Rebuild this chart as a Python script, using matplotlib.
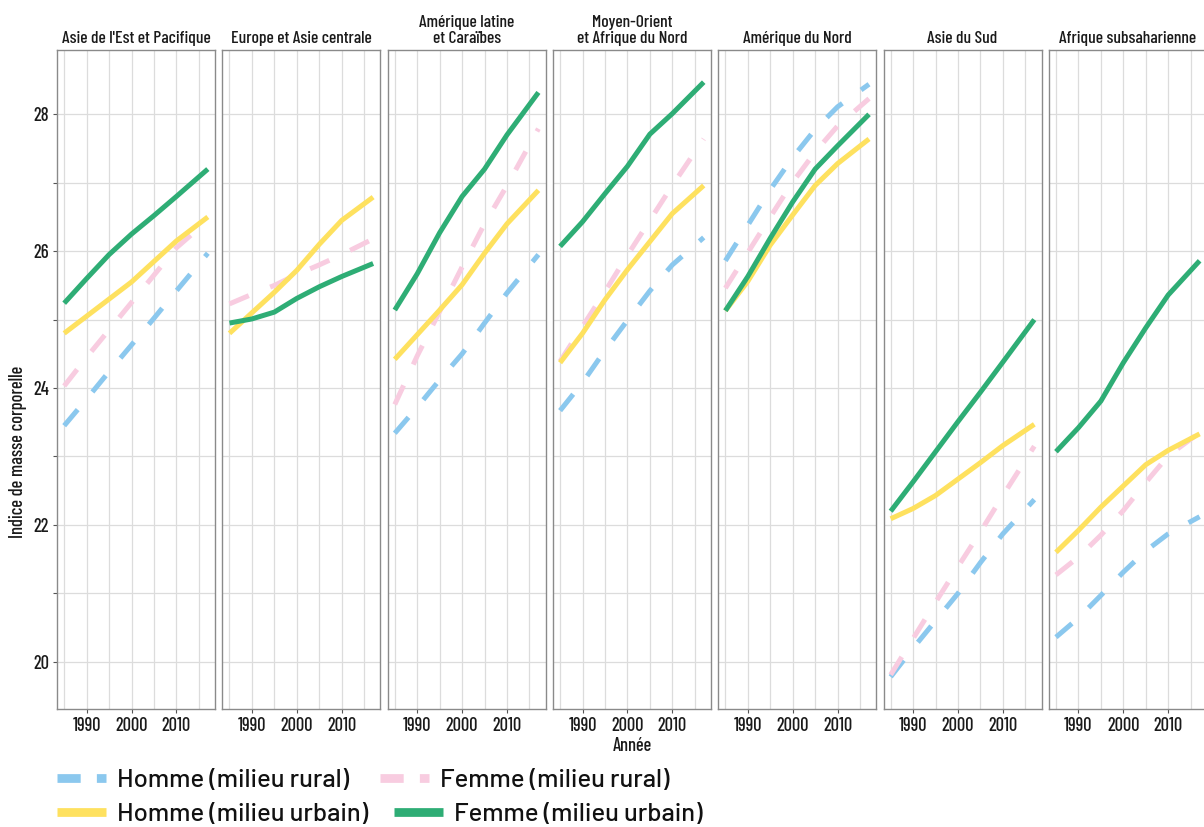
import matplotlib
matplotlib.use("Agg")
import matplotlib.pyplot as plt
from matplotlib import font_manager
from matplotlib.lines import Line2D
from matplotlib.ticker import MultipleLocator, FixedLocator, FuncFormatter

# ---------------- data ----------------
years = [1985, 1990, 1995, 2000, 2005, 2010, 2017]
regions = ["Asie de l'Est et Pacifique", "Europe et Asie centrale",
           "Amérique latine\net Caraïbes", "Moyen-Orient\net Afrique du Nord",
           "Amérique du Nord", "Asie du Sud", "Afrique subsaharienne"]

homme_rural = [
    [23.45, 23.84, 24.24, 24.63, 25.02, 25.42, 25.97],
    None,
    [23.34, 23.72, 24.12, 24.50, 24.95, 25.39, 25.95],
    [23.67, 24.08, 24.55, 24.99, 25.42, 25.80, 26.20],
    [25.86, 26.38, 26.90, 27.37, 27.78, 28.11, 28.44],
    [19.78, 20.20, 20.60, 21.00, 21.45, 21.87, 22.37],
    [20.36, 20.64, 20.97, 21.31, 21.62, 21.87, 22.12],
]
femme_rural = [
    [24.03, 24.45, 24.85, 25.25, 25.65, 26.05, 26.45],
    [25.23, 25.37, 25.50, 25.66, 25.80, 25.95, 26.18],
    [23.76, 24.47, 25.12, 25.77, 26.40, 26.96, 27.79],
    [24.39, 24.90, 25.41, 25.94, 26.45, 26.96, 27.64],
    [25.46, 25.98, 26.50, 27.01, 27.45, 27.83, 28.23],
    [19.81, 20.34, 20.87, 21.39, 21.90, 22.43, 23.15],
    [21.27, 21.53, 21.85, 22.21, 22.62, 23.01, 23.35],
]
homme_urbain = [
    [24.80, 25.05, 25.30, 25.55, 25.85, 26.15, 26.50],
    [24.80, 25.10, 25.40, 25.72, 26.10, 26.45, 26.79],
    [24.42, 24.78, 25.14, 25.51, 25.97, 26.40, 26.89],
    [24.37, 24.80, 25.29, 25.73, 26.14, 26.55, 26.96],
    [25.13, 25.56, 26.09, 26.53, 26.96, 27.28, 27.64],
    [22.09, 22.24, 22.43, 22.67, 22.91, 23.16, 23.47],
    [21.60, 21.92, 22.26, 22.57, 22.88, 23.09, 23.33],
]
femme_urbain = [
    [25.24, 25.60, 25.95, 26.25, 26.52, 26.80, 27.20],
    [24.95, 25.01, 25.11, 25.31, 25.48, 25.63, 25.82],
    [25.14, 25.67, 26.27, 26.80, 27.20, 27.70, 28.32],
    [26.07, 26.43, 26.84, 27.24, 27.71, 28.01, 28.47],
    [25.13, 25.63, 26.19, 26.72, 27.20, 27.54, 28.00],
    [22.20, 22.63, 23.07, 23.51, 23.94, 24.38, 25.00],
    [23.07, 23.42, 23.81, 24.37, 24.88, 25.36, 25.86],
]
series_labels = ["Homme (milieu rural)", "Femme (milieu rural)",
                 "Homme (milieu urbain)", "Femme (milieu urbain)"]
x_ticks = [1990, 2000, 2010]
y_ticks = [20, 22, 24, 26, 28]

# ---------------- styles ----------------
colors = ["#8BC8EE", "#F8CCE0", "#FEE15F", "#2EAD75"]
dashed = [True, True, False, False]

names = {f.name for f in font_manager.fontManager.ttflist}
def pick(cands):
    for c in cands:
        if c in names:
            return c
    return "DejaVu Sans"
COND = {"family": pick(["Barlow Condensed", "Roboto Condensed", "Liberation Sans Narrow"]),
        "weight": "medium"}
LEG_FONT = pick(["Barlow", "Lato", "DejaVu Sans"])

W, H = 1204, 827
fig = plt.figure(figsize=(W / 100, H / 100), dpi=100)

left0, pw, step = 57, 158, 165.3
top, bottom = 50, 709
xlim = (1983.4, 2018.6)
ylim = (19.31, 28.94)

for i, reg in enumerate(regions):
    l = left0 + i * step
    ax = fig.add_axes([l / W, 1 - bottom / H, pw / W, (bottom - top) / H])
    ax.set_xlim(*xlim)
    ax.set_ylim(*ylim)
    ax.xaxis.set_major_locator(FixedLocator(x_ticks))
    ax.xaxis.set_minor_locator(FixedLocator([1985, 1995, 2005, 2015]))
    ax.yaxis.set_major_locator(MultipleLocator(1))
    ax.grid(True, which="major", color="#DCDCDC", lw=0.9)
    ax.grid(True, which="minor", axis="x", color="#DCDCDC", lw=0.9)
    ax.set_axisbelow(True)
    for s in ax.spines.values():
        s.set_color("#8A8A8A")
        s.set_linewidth(1.0)
    ax.tick_params(axis="both", which="major", length=3, color="#555555",
                   labelsize=13.3, labelcolor="#1A1A1A", pad=2.5)
    ax.tick_params(axis="x", which="minor", length=0)
    for lab in ax.get_xticklabels():
        lab.set(**COND)
    if i == 0:
        ax.yaxis.set_major_formatter(FuncFormatter(
            lambda v, p: f"{int(round(v))}" if int(round(v)) in y_ticks else ""))
        for lab in ax.get_yticklabels():
            lab.set(**COND)
    else:
        ax.tick_params(axis="y", which="both", left=False, labelleft=False)

    data = [homme_rural[i], femme_rural[i], homme_urbain[i], femme_urbain[i]]
    for vals, c, d, lab in zip(data, colors, dashed, series_labels):
        if vals is None:
            continue
        if d:
            ax.plot(years, vals, color=c, lw=3.6, linestyle=(0, (4.2, 4.6)),
                    dash_capstyle="butt", label=lab)
        else:
            ax.plot(years, vals, color=c, lw=3.6, solid_capstyle="butt",
                    solid_joinstyle="round", label=lab)
    ax.text(0.5, 1.0 + 4 / (bottom - top), reg, transform=ax.transAxes,
            ha="center", va="bottom", fontsize=12.6, color="#1A1A1A",
            linespacing=1.05, **COND)

# axis titles
fig.text(632 / W, 1 - 746 / H, "Année", ha="center", va="center",
         fontsize=13.3, color="#1A1A1A", **COND)
fig.text(18 / W, 1 - 452 / H, "Indice de masse corporelle", ha="center",
         va="center", rotation=90, fontsize=13.3, color="#1A1A1A", **COND)

# ---------------- legend (two rows) ----------------
def handle(c, d):
    if d:
        return Line2D([], [], color=c, lw=6.3, linestyle=(0, (2.65, 1.85)),
                      dash_capstyle="butt")
    return Line2D([], [], color=c, lw=6.3, solid_capstyle="butt")

hs = [handle(c, d) for c, d in zip(colors, dashed)]
legkw = dict(ncol=2, frameon=False, handlelength=1.9, handletextpad=0.43,
             borderaxespad=0, borderpad=0,
             prop={"family": LEG_FONT, "size": 18.5, "weight": "medium"})
leg1 = fig.legend(hs[:2], series_labels[:2], loc="center left",
                  bbox_to_anchor=(57 / W, 1 - 780 / H), columnspacing=1.2, **legkw)
leg2 = fig.legend(hs[2:], series_labels[2:], loc="center left",
                  bbox_to_anchor=(57 / W, 1 - 814 / H), columnspacing=1.0, **legkw)
for lg in (leg1, leg2):
    for t in lg.get_texts():
        t.set_color("#111111")

fig.savefig("out.png", dpi=100)
